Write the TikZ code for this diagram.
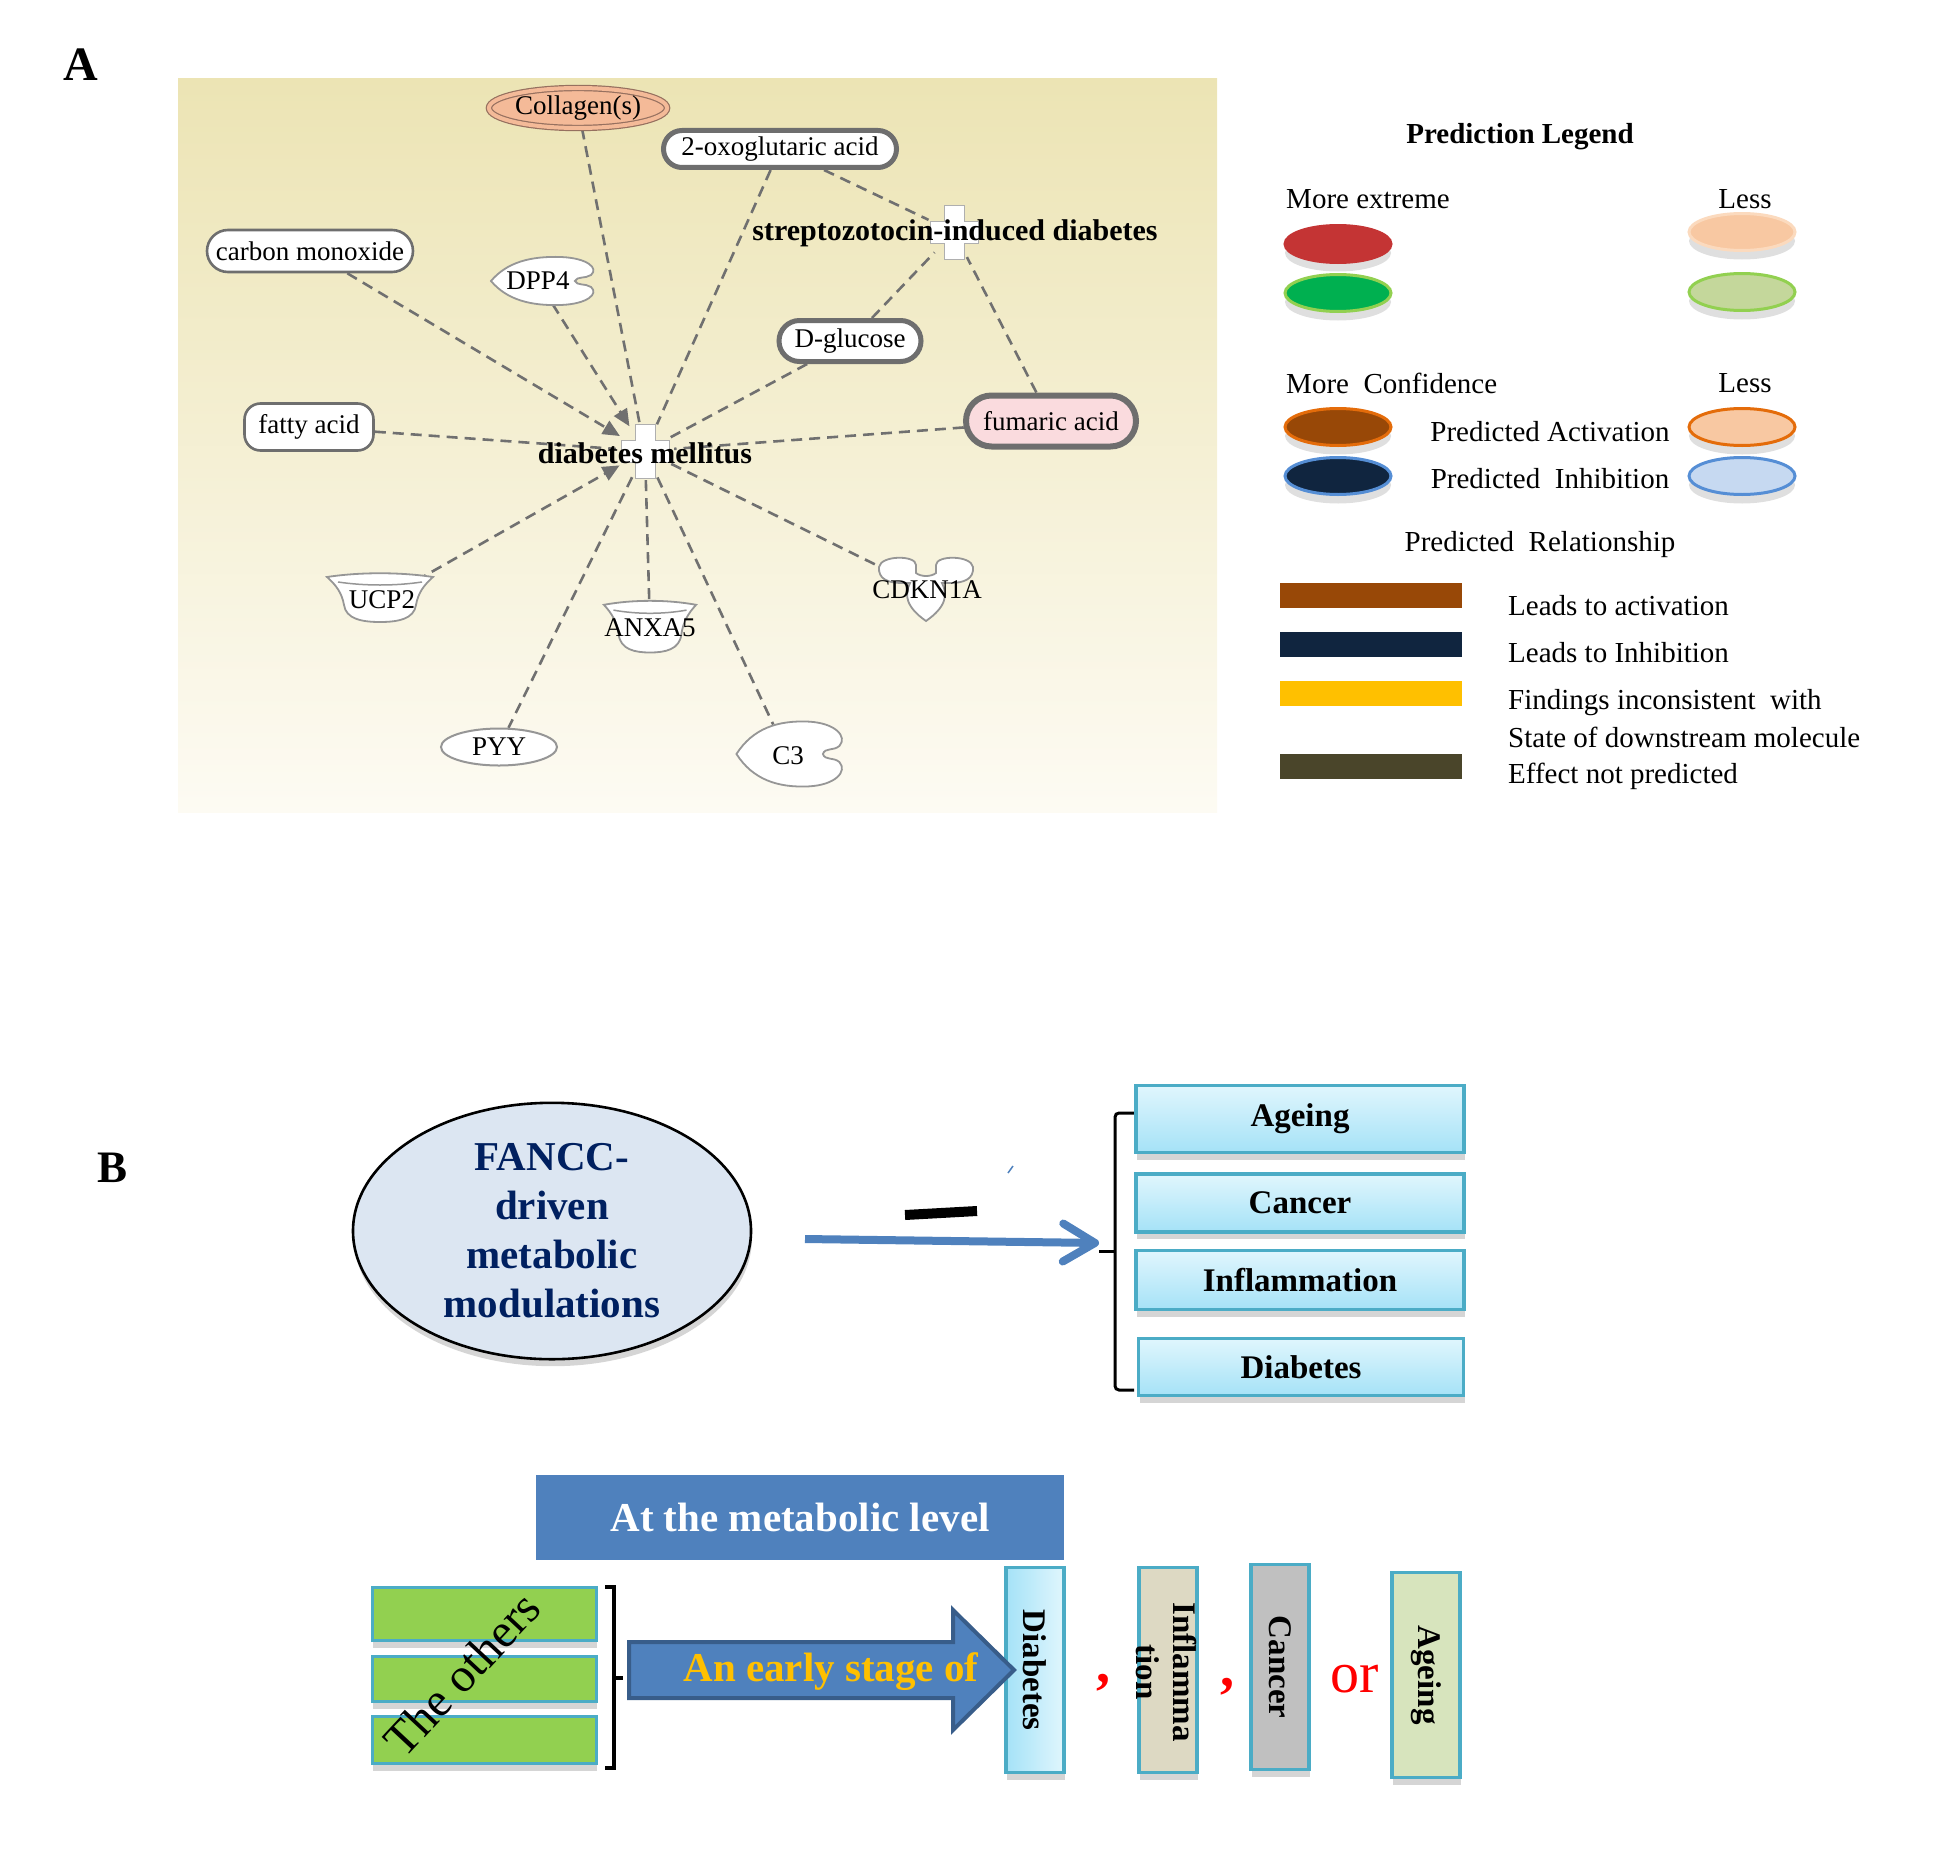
\documentclass[tikz,border=0pt]{standalone}
\usepackage{fontspec}
\setmainfont{Liberation Serif}
\usetikzlibrary{arrows.meta,shapes.geometric,shapes.misc,shadows}

\definecolor{bgtop}{RGB}{236,228,180}
\definecolor{bgbot}{RGB}{253,251,243}
\definecolor{edgegray}{RGB}{112,112,112}
\definecolor{rimgray}{RGB}{110,110,110}
\definecolor{shapegray}{RGB}{150,150,150}
\definecolor{crossgray}{RGB}{175,175,175}
\definecolor{collfill}{RGB}{244,186,152}
\definecolor{collrim}{RGB}{150,112,95}
\definecolor{fumfill}{RGB}{250,219,222}
\definecolor{lgred}{RGB}{196,52,52}
\definecolor{lggreen}{RGB}{0,176,80}
\definecolor{lggreenrim}{RGB}{146,208,80}
\definecolor{lgpeach}{RGB}{248,200,162}
\definecolor{lgpeachrim}{RGB}{251,218,190}
\definecolor{lglime}{RGB}{196,215,155}
\definecolor{lgbrown}{RGB}{152,72,7}
\definecolor{lgorange}{RGB}{228,108,10}
\definecolor{lgnavy}{RGB}{16,37,63}
\definecolor{lgblue}{RGB}{85,142,213}
\definecolor{lgsky}{RGB}{198,217,241}
\definecolor{lgyellow}{RGB}{255,192,0}
\definecolor{lgolive}{RGB}{74,69,42}
\definecolor{ovfill}{RGB}{220,230,242}
\definecolor{ovtext}{RGB}{0,32,96}
\definecolor{steel}{RGB}{79,129,189}
\definecolor{steeldark}{RGB}{56,93,138}
\definecolor{boxrim}{RGB}{75,172,198}
\definecolor{cyantop}{RGB}{224,246,253}
\definecolor{cyanbot}{RGB}{165,226,247}
\definecolor{leafgreen}{RGB}{146,208,80}
\definecolor{sandfill}{RGB}{221,217,195}
\definecolor{greyfill}{RGB}{192,192,192}
\definecolor{sagefill}{RGB}{215,228,189}

\pgfdeclarelayer{back}
\pgfdeclarelayer{links}
\pgfsetlayers{back,links,main}

\tikzset{
  mol/.style={font=\fontsize{27}{30}\selectfont, inner sep=0pt},
  hub/.style={font=\bfseries\fontsize{30}{32}\selectfont, inner sep=0pt},
  pill/.style={mol, rounded rectangle, draw=rimgray, fill=white},
  link/.style={draw=edgegray, line width=2.6pt, dash pattern=on 11pt off 7pt},
  linkarr/.style={link, -{Triangle[length=17pt,width=15pt]}},
  legtext/.style={font=\fontsize{29}{32}\selectfont, inner sep=0pt},
  legov/.style={ellipse, draw, minimum width=106pt, minimum height=37pt, line width=3pt,
    drop shadow={shadow xshift=0pt,shadow yshift=-9pt,opacity=.25,fill=black!50}},
  shad/.style={drop shadow={shadow xshift=1pt,shadow yshift=-7pt,opacity=.3,fill=black!55}},
  cyanbox/.style={rectangle, draw=boxrim, line width=3.5pt, top color=cyantop, bottom color=cyanbot,
    minimum width=328pt, font=\bfseries\fontsize{33}{36}\selectfont, shad},
  greenbar/.style={rectangle, fill=leafgreen, draw=boxrim, line width=3pt, minimum width=224pt, shad},
  vbox/.style={rectangle, draw=boxrim, line width=3.5pt, minimum width=58pt, minimum height=205pt, shad},
  vlab/.style={rotate=-90, font=\bfseries\fontsize{33}{37}\selectfont, align=center, inner sep=0pt},
  pics/notchpc/.style={code={
    \draw[shapegray, fill=white, line width=1.8pt]
      (-52,0) .. controls (-36,-19) and (-12,-25) .. (18,-24)
      .. controls (44,-23) and (56,-13) .. (48,-6)
      .. controls (42,-2) and (34,-5) .. (32,0)
      .. controls (34,5) and (42,2) .. (48,6)
      .. controls (56,13) and (44,23) .. (18,24)
      .. controls (-12,25) and (-36,19) .. (-52,0) -- cycle;
  }},
  pics/cuppc/.style={code={
    \draw[shapegray, fill=white, line width=1.8pt]
      (-53,-20) .. controls (-20,-25) and (20,-25) .. (53,-20)
      .. controls (44,-12) and (38,-4) .. (36,8)
      .. controls (34,22) and (18,25) .. (0,25)
      .. controls (-18,25) and (-34,22) .. (-36,8)
      .. controls (-38,-4) and (-44,-12) .. (-53,-20) -- cycle;
    \draw[shapegray, line width=1.5pt] (-42,-15) .. controls (-15,-11) and (15,-11) .. (42,-15);
  }},
  pics/trilobe/.style={code={
    \draw[shapegray, fill=white, line width=1.8pt]
      (-10,-16) -- (-10,-24) .. controls (-10,-34) and (-45,-34) .. (-47,-22)
      .. controls (-48,-10) and (-38,-6) .. (-24,-6) -- (-16,-6)
      .. controls (-22,6) and (-20,18) .. (0,32)
      .. controls (20,18) and (22,6) .. (16,-6) -- (24,-6)
      .. controls (38,-6) and (48,-10) .. (47,-22)
      .. controls (45,-34) and (10,-34) .. (10,-24) -- (10,-16)
      .. controls (5,-12) and (-5,-12) .. (-10,-16) -- cycle;
  }},
  pics/crossmark/.style={code={
    \filldraw[fill=white, draw=crossgray, line width=1pt]
      (-10,-27) -- (10,-27) -- (10,-11) -- (24,-11) -- (24,11) -- (10,11) -- (10,27)
      -- (-10,27) -- (-10,11) -- (-24,11) -- (-24,-11) -- (-10,-11) -- cycle;
  }}
}

\begin{document}
\begin{tikzpicture}[x=1pt,y=-1pt]
  \useasboundingbox (0,0) rectangle (1950,1854);

  % panel A
  \node[font=\bfseries\fontsize{48}{48}\selectfont, inner sep=0pt] (lblA) at (81,65) {A};
  \begin{pgfonlayer}{back}
    \shade[top color=bgtop, bottom color=bgbot] (178,79) rectangle (1217,812);
  \end{pgfonlayer}

  \node[mol, ellipse, draw=collrim, line width=1.2pt, double=collfill, double distance=4pt,
    fill=collfill, minimum width=158pt, minimum height=40pt] (coll) at (578,108) {Collagen(s)};
  \node[pill, line width=5pt, minimum width=233pt, minimum height=37pt] (oxo) at (780,149) {2-oxoglutaric acid};
  \node[pill, line width=2.6pt, minimum width=206pt, minimum height=42pt] (cmo) at (310,251) {carbon monoxide};
  \node[pill, line width=5pt, minimum width=142pt, minimum height=41pt] (glc) at (850,341) {D-glucose};
  \node[pill, line width=6pt, fill=fumfill, minimum width=170pt, minimum height=51pt] (fum) at (1051,421) {fumaric acid};
  \node[mol, rectangle, rounded corners=16pt, draw=rimgray, fill=white, line width=2.6pt,
    minimum width=129pt, minimum height=47pt] (fat) at (309,427) {fatty acid};
  \node[mol, ellipse, draw=shapegray, fill=white, line width=2pt, minimum width=116pt,
    minimum height=37pt] (pyy) at (499,747) {PYY};

  \pic at (543,281) {notchpc};
  \node[mol, ellipse, minimum width=104pt, minimum height=48pt] (dpp) at (538,281) {DPP4};
  \pic at (380,597) {cuppc};
  \node[mol, ellipse, minimum width=106pt, minimum height=50pt] (ucp) at (382,600) {UCP2};
  \pic[xscale=.87,yscale=1.06] at (650,626) {cuppc};
  \node[mol, ellipse, minimum width=92pt, minimum height=53pt] (anx) at (650,628) {ANXA5};
  \pic at (926,589) {trilobe};
  \node[mol, ellipse, minimum width=95pt, minimum height=64pt] (cdk) at (927,590) {CDKN1A};
  \pic[xscale=1.03,yscale=1.35] at (790,754) {notchpc};
  \node[mol, ellipse, minimum width=107pt, minimum height=65pt] (c3) at (788,756) {C3};

  \node[circle, minimum size=58pt, inner sep=0pt] (dm) at (645,451) {};
  \pic at (dm) {crossmark};
  \node[hub] (dmtxt) at (645,453) {diabetes mellitus};
  \node[circle, minimum size=56pt, inner sep=0pt] (stz) at (954,232) {};
  \pic at (stz) {crossmark};
  \node[hub] (stztxt) at (955,233) {streptozotocin-induced diabetes};

  \begin{pgfonlayer}{links}
    \draw[linkarr] (cmo) -- (dm);
    \draw[linkarr] (dpp) -- (dm);
    \draw[linkarr] (ucp) -- (dm);
    \draw[link] (coll) -- (dm);
    \draw[link] (oxo) -- (dm);
    \draw[link] (oxo) -- (stz);
    \draw[link] (glc) -- (dm);
    \draw[link] (glc) -- (stz);
    \draw[link] (fum) -- (stz);
    \draw[link] (fum) -- (dm);
    \draw[link] (fat) -- (dm);
    \draw[link] (dm) -- (anx);
    \draw[link] (dm) -- (pyy);
    \draw[link] (dm) -- (c3);
    \draw[link] (dm) -- (cdk);
  \end{pgfonlayer}

  % legend
  \node[legtext, font=\bfseries\fontsize{29}{32}\selectfont] (legtitle) at (1520,137) {Prediction Legend};
  \node[legtext, anchor=west] (moreext) at (1286,199) {More extreme};
  \node[legtext] (less1) at (1745,199) {Less};
  \node[legov, fill=lgred, draw=lgred] (ovred) at (1338,244) {};
  \node[legov, fill=lggreen, draw=lggreenrim] (ovgreen) at (1338,293) {};
  \node[legov, fill=lgpeach, draw=lgpeachrim] (ovpeach) at (1742,232) {};
  \node[legov, fill=lglime, draw=lggreenrim] (ovlime) at (1742,292) {};
  \node[legtext, anchor=west] (moreconf) at (1286,383) {More\ \ Confidence};
  \node[legtext] (less2) at (1745,383) {Less};
  \node[legov, fill=lgbrown, draw=lgorange] (ovbrown) at (1338,427) {};
  \node[legov, fill=lgnavy, draw=lgblue] (ovnavy) at (1338,476) {};
  \node[legov, fill=lgpeach, draw=lgorange] (ovpeachb) at (1742,427) {};
  \node[legov, fill=lgsky, draw=lgblue] (ovsky) at (1742,476) {};
  \node[legtext] (predact) at (1550,432) {Predicted Activation};
  \node[legtext] (predinh) at (1550,479) {Predicted\ \ Inhibition};
  \node[legtext] (predrel) at (1540,545) {Predicted\ \ Relationship};

  \fill[lgbrown] (1280,583) rectangle (1462,608);
  \fill[lgnavy] (1280,632) rectangle (1462,657);
  \fill[lgyellow] (1280,681) rectangle (1462,706);
  \fill[lgolive] (1280,754) rectangle (1462,779);
  \node[legtext, anchor=west] (leadact) at (1508,606) {Leads to activation};
  \node[legtext, anchor=west] (leadinh) at (1508,653) {Leads to Inhibition};
  \node[legtext, anchor=west] (incons) at (1508,703) {Findings inconsistent\ \ with};
  \node[legtext, anchor=west] (downst) at (1508,737) {State of downstream molecule};
  \node[legtext, anchor=west] (notpred) at (1508,776) {Effect not predicted};

  % panel B
  \node[font=\bfseries\fontsize{45}{45}\selectfont, inner sep=0pt] (lblB) at (113,1168) {B};
  \node[ellipse, draw=black, line width=2.6pt, fill=ovfill, minimum width=398pt, minimum height=256pt,
    align=center, text=ovtext, font=\bfseries\fontsize{41}{49}\selectfont, shad] (fancc) at (552,1231)
    {FANCC-\\driven\\metabolic\\modulations};

  \coordinate (tailB) at (805,1239);
  \coordinate (headB) at (1099,1243);
  \draw[steel, line width=8pt, -{Straight Barb[length=32pt,width=38pt,round]}] (tailB) -- (headB);
  \draw[black, line width=10pt] (905,1215) -- (977,1211);
  \draw[steel, line width=1.5pt] (1008,1173) -- (1013,1166);

  \draw[line width=3pt, rounded corners=4pt] (1134,1113) -- (1115,1113) -- (1115,1390) -- (1134,1390);
  \draw[line width=3pt] (1115,1251) -- (1099,1251);

  \node[cyanbox, minimum height=67pt] (bage) at (1300,1119) {Ageing};
  \node[cyanbox, minimum height=58pt] (bcan) at (1300,1203) {Cancer};
  \node[cyanbox, minimum height=59pt] (binf) at (1300,1280) {Inflammation};
  \node[cyanbox, minimum width=325pt, minimum height=57pt] (bdia) at (1301,1367) {Diabetes};

  \node[fill=steel, minimum width=528pt, minimum height=85pt, text=white,
    font=\bfseries\fontsize{41}{44}\selectfont] (meta) at (800,1517) {At the metabolic level};

  \node[greenbar, minimum height=53pt] (oth1) at (484,1614) {};
  \node[greenbar, minimum height=45pt] (oth2) at (484,1679) {};
  \node[greenbar, minimum height=47pt] (oth3) at (484,1740) {};
  \node[font=\fontsize{48}{50}\selectfont, rotate=47] (others) at (462,1674) {The others};

  \draw[line width=4pt] (605,1587) -- (614,1587) -- (614,1768) -- (605,1768);
  \draw[line width=4pt] (614,1678) -- (623,1678);

  \node[vbox, left color=cyanbot, right color=cyantop] (vdia) at (1035,1670) {};
  \node[vlab] (vdiatxt) at (vdia) {Diabetes};
  \node[vbox, fill=sandfill] (vinf) at (1168,1670) {};
  \node[vlab] (vinftxt) at (1166,1672) {Inflamma\\tion};
  \node[vbox, fill=greyfill] (vcan) at (1280,1667) {};
  \node[vlab] (vcantxt) at (vcan) {Cancer};
  \node[vbox, fill=sagefill, minimum width=68pt] (vage) at (1426,1675) {};
  \node[vlab] (vagetxt) at (vage) {Ageing};

  \filldraw[fill=steel, draw=steeldark, line width=4pt, line join=miter]
    (629,1642) -- (953,1642) -- (953,1610) -- (1014,1670) -- (953,1730) -- (953,1698) -- (629,1698) -- cycle;
  \node[font=\bfseries\fontsize{41}{44}\selectfont, text=lgyellow] (early) at (831,1672) {An early stage of};

  \node[text=red, font=\bfseries\fontsize{56}{56}\selectfont] (comma1) at (1103,1683) {,};
  \node[text=red, font=\bfseries\fontsize{56}{56}\selectfont] (comma2) at (1227,1687) {,};
  \node[text=red, font=\fontsize{58}{58}\selectfont] (orword) at (1355,1679) {or};
\end{tikzpicture}
\end{document}
